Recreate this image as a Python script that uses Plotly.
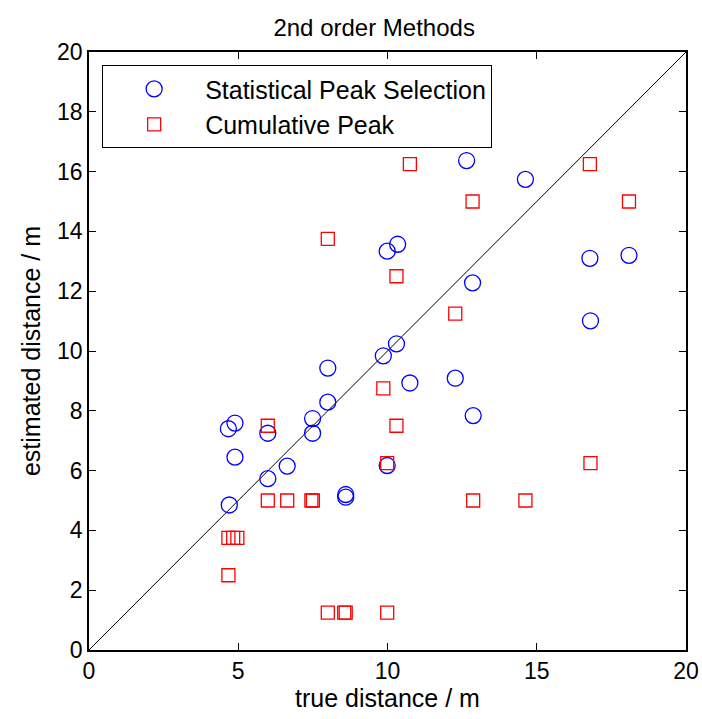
import plotly.graph_objects as go

# Statistical Peak Selection (blue circles)
sps_true = [4.70, 4.67, 4.89, 4.89, 5.99, 5.99, 6.64, 7.49, 7.49, 8.00, 8.00, 8.60, 8.60,
            9.86, 9.99, 9.99, 10.34, 10.30, 10.75, 12.27, 12.65, 12.85, 12.87, 14.62,
            16.78, 16.80, 18.09]
sps_est = [4.85, 7.40, 7.59, 6.45, 7.25, 5.73, 6.15, 7.74, 7.25, 8.29, 9.43, 5.20, 5.11,
           9.84, 6.17, 13.34, 13.57, 10.24, 8.93, 9.09, 16.37, 12.28, 7.84, 15.74,
           13.10, 11.01, 13.20]

# Cumulative Peak (red squares)
cp_true = [4.67, 4.67, 4.83, 4.97, 5.99, 5.99, 6.64, 7.45, 7.50, 8.00, 8.00, 8.55, 8.60,
           9.86, 9.99, 9.99, 10.30, 10.30, 10.75, 12.27, 12.85, 12.87, 14.62, 16.78,
           16.80, 18.09]
cp_est = [2.50, 3.75, 3.75, 3.75, 7.50, 5.00, 5.00, 5.00, 5.00, 13.75, 1.25, 1.25, 1.25,
          8.75, 6.25, 1.25, 12.50, 7.50, 16.25, 11.25, 15.00, 5.00, 5.00, 16.25,
          6.25, 15.00]

diag = [0, 20]
ticks = [0, 5, 10, 15, 20]
yticks = [0, 2, 4, 6, 8, 10, 12, 14, 16, 18, 20]

FONT = "Liberation Sans, Arial, Helvetica, sans-serif"

fig = go.Figure()
fig.add_trace(go.Scatter(x=diag, y=diag, mode="lines",
                         line=dict(color="black", width=1), showlegend=False,
                         hoverinfo="skip"))
fig.add_trace(go.Scatter(x=sps_true, y=sps_est, mode="markers",
                         name="Statistical Peak Selection",
                         marker=dict(symbol="circle-open", size=16, color="#0000ff",
                                     line=dict(width=1.3, color="#0000ff"))))
fig.add_trace(go.Scatter(x=cp_true, y=cp_est, mode="markers",
                         name="Cumulative Peak",
                         marker=dict(symbol="square-open", size=13, color="#ff0000",
                                     line=dict(width=1.3, color="#ff0000"))))

axis_common = dict(showgrid=False, zeroline=False, showline=True, linecolor="black",
                   linewidth=1.5, mirror="allticks", ticks="inside", ticklen=7,
                   tickcolor="black", tickwidth=1, automargin=False,
                   tickfont=dict(size=23, color="black", family=FONT))

fig.update_layout(
    width=702, height=719,
    margin=dict(l=89, r=16, t=52, b=69),
    paper_bgcolor="white", plot_bgcolor="white",
    font=dict(family=FONT, color="black"),
    title=dict(text="2nd order Methods", xref="container", x=0.533, xanchor="center",
               yref="container", y=0.962, yanchor="middle",
               font=dict(size=24, family=FONT, color="black")),
    xaxis=dict(range=[0, 20], tickvals=ticks,
               title=dict(text="true distance / m", font=dict(size=25, family=FONT),
                          standoff=6),
               **axis_common),
    yaxis=dict(range=[0, 20], tickvals=yticks,
               title=dict(text="estimated distance / m", font=dict(size=25, family=FONT),
                          standoff=9),
               **axis_common),
    legend=dict(x=0.022, y=0.978, xanchor="left", yanchor="top",
                bgcolor="white", bordercolor="black", borderwidth=1,
                font=dict(size=25, family=FONT, color="black"),
                itemwidth=92, tracegroupgap=0),
)

fig.write_html("out.html")
